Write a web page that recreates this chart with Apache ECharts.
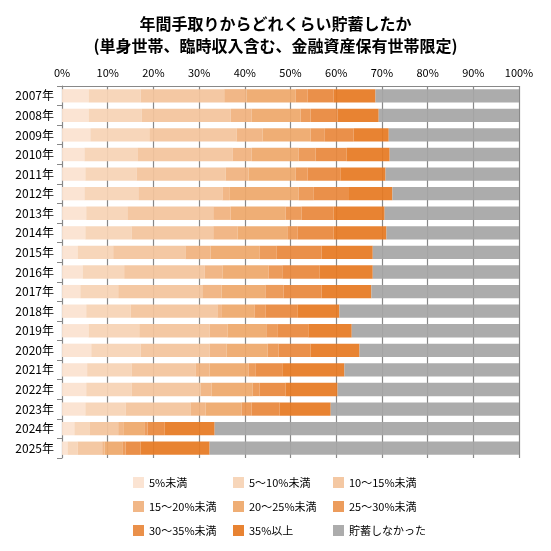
<!DOCTYPE html><html><head><meta charset="utf-8"><script src="https://cdn.jsdelivr.net/npm/echarts@6/dist/echarts.min.js"></script>
<style>html,body{margin:0;background:#fff}#c{width:551px;height:551px}</style></head><body><div id="c"></div><script>
const years=['2007年','2008年','2009年','2010年','2011年','2012年','2013年','2014年','2015年','2016年','2017年','2018年','2019年','2020年','2021年','2022年','2023年','2024年','2025年'];
const names=['5%未満','5～10%未満','10～15%未満','15～20%未満','20～25%未満','25～30%未満','30～35%未満','35%以上','貯蓄しなかった'];
const s1=[5.8,5.8,6.2,4.9,5.1,4.9,5.3,5.1,3.4,4.5,4.0,5.3,5.8,6.4,5.5,5.3,5.1,2.7,1.2];
const s2=[11.4,11.6,12.9,11.6,11.2,11.8,9.0,10.1,7.8,9.1,8.3,9.7,11.1,10.8,9.7,9.9,8.8,3.3,2.2];
const s3=[18.3,19.5,19.1,20.8,19.5,18.4,18.8,17.9,15.8,17.6,18.4,19.0,15.4,15.1,14.0,15.1,14.2,6.3,5.4];
const s4=[4.9,4.6,5.7,4.2,5.0,1.5,3.8,5.3,5.5,3.9,4.2,1.0,3.9,3.7,3.1,2.4,3.3,1.1,0.5];
const s5=[10.7,10.7,10.5,10.3,10.3,15.2,12.0,10.9,10.7,10.1,9.6,7.1,8.5,9.0,8.5,9.0,7.9,4.6,3.9];
const s6=[2.6,2.2,3.0,3.7,2.6,3.3,3.5,2.2,3.7,3.0,4.0,2.4,2.4,2.4,1.5,1.5,2.2,0.7,0.7];
const s7=[5.7,5.9,6.4,6.8,7.2,7.7,7.0,7.9,9.9,8.2,8.3,7.0,6.8,7.0,5.9,5.7,6.1,3.7,3.3];
const s8=[9.2,9.0,7.7,9.4,9.9,9.5,11.2,11.6,11.2,11.6,10.9,9.2,9.5,10.7,13.6,11.4,11.2,11.0,15.1];
const s9=[31.4,30.7,28.5,28.3,29.2,27.7,29.4,29.0,32.0,32.0,32.3,39.3,36.6,34.9,38.2,39.7,41.2,66.6,67.7];
const xTicks=[0,10,20,30,40,50,60,70,80,90,100];
const colors=['#fbe2d0','#f6d3b5','#f3c49c','#f0b27e','#eea86a','#eb9550','#e8883c','#e67a22','#a6a6a6'];
const data=[s1,s2,s3,s4,s5,s6,s7,s8,s9];
const ch=echarts.init(document.getElementById('c'));
const font='"Noto Sans CJK JP", sans-serif';
const cols=[[0,3,6],[1,4,7],[2,5,8]];
ch.setOption({
 textStyle:{fontFamily:font},
 title:{text:'年間手取りからどれくらい貯蓄したか\n(単身世帯、臨時収入含む、金融資産保有世帯限定)',left:'center',top:8,textStyle:{fontSize:16,fontWeight:'bold',color:'#000',lineHeight:22,fontFamily:font}},
 legend:cols.map((c,i)=>({data:c.map(k=>names[k]),orient:'vertical',left:[128,228,328][i],top:472,itemGap:13,itemWidth:11,itemHeight:11,icon:'rect',textStyle:{fontSize:11,color:'#000',fontFamily:font}})),
 grid:{left:62,right:32,top:86,bottom:93},
 xAxis:{type:'value',position:'top',min:0,max:100,interval:10,
  axisLabel:{formatter:v=>v+'%',fontSize:11,color:'#000'},
  axisLine:{show:true,lineStyle:{color:'#888'}},
  splitLine:{lineStyle:{color:'#888',width:1.2}}},
 yAxis:{type:'category',data:years,inverse:true,
  axisLabel:{fontSize:12,color:'#000'},axisTick:{show:true,lineStyle:{color:'#888'}},axisLine:{lineStyle:{color:'#888'}}},
 series:data.map((d,i)=>({name:names[i],type:'bar',stack:'a',data:d,barWidth:'68%',itemStyle:{color:colors[i],opacity:0.93}}))
});
</script></body></html>
